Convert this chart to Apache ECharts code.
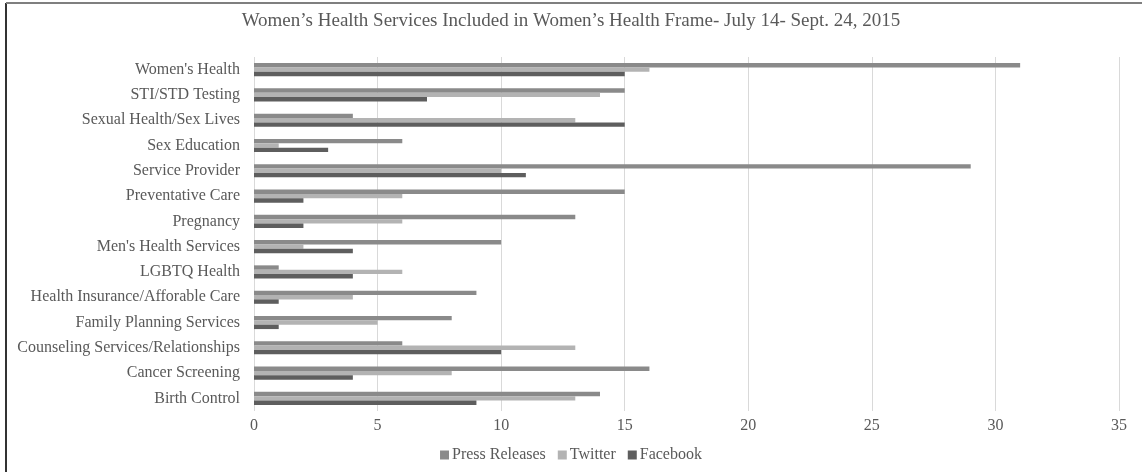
<!DOCTYPE html>
<html>
<head>
<meta charset="utf-8">
<script src="https://cdn.jsdelivr.net/npm/echarts@6/dist/echarts.min.js"></script>
<style>
  html, body { margin: 0; padding: 0; background: #fff; }
  #chart { width: 1142px; height: 472px; }
</style>
</head>
<body>
<div id="chart"></div>
<script>
// categories top -> bottom
var categories = [
    "Women's Health",
    'STI/STD Testing',
    'Sexual Health/Sex Lives',
    'Sex Education',
    'Service Provider',
    'Preventative Care',
    'Pregnancy',
    "Men's Health Services",
    'LGBTQ Health',
    'Health Insurance/Afforable Care',
    'Family Planning Services',
    'Counseling Services/Relationships',
    'Cancer Screening',
    'Birth Control'
]
var pressReleases = [31, 15, 4, 6, 29, 15, 13, 10, 1, 9, 8, 6, 16, 14]
var twitter = [16, 14, 13, 1, 10, 6, 6, 2, 6, 4, 5, 13, 8, 13]
var facebook = [15, 7, 15, 3, 11, 2, 2, 4, 4, 1, 1, 10, 4, 9]
var xTicks = [0, 5, 10, 15, 20, 25, 30, 35]

var font = '"Liberation Serif", "Times New Roman", serif'
var textColor = '#595959'

var myChart = echarts.init(document.getElementById('chart'))

function barSeries(name, data, color) {
    return {
        name: name,
        type: 'bar',
        data: data,
        barGap: '0%',
        barCategoryGap: '48%',
        itemStyle: { color: color },
        emphasis: { disabled: true }
    }
}

var option = {
    animation: false,
    textStyle: { fontFamily: font },
    title: {
        text: 'Women\u2019s Health Services Included in Women\u2019s Health Frame- July 14- Sept. 24, 2015',
        left: 'center',
        top: 7,
        textStyle: { fontFamily: font, fontSize: 19, fontWeight: 'normal', color: textColor }
    },
    legend: {
        bottom: 4,
        left: 'center',
        itemWidth: 9,
        itemHeight: 9,
        itemGap: 12,
        icon: 'rect',
        textStyle: { fontFamily: font, fontSize: 16, color: textColor, padding: [0, 0, 0, -2] },
        data: ['Press Releases', 'Twitter', 'Facebook']
    },
    grid: { left: 254, right: 23, top: 57, bottom: 61 },
    xAxis: {
        type: 'value',
        min: xTicks[0],
        max: xTicks[xTicks.length - 1],
        interval: 5,
        axisLine: { show: false },
        axisTick: { show: false },
        axisLabel: { fontFamily: font, fontSize: 16, color: textColor, margin: 7 },
        splitLine: { lineStyle: { color: '#d9d9d9', width: 1 } }
    },
    yAxis: {
        type: 'category',
        inverse: true,
        data: categories,
        axisLine: { show: false },
        axisTick: { show: false },
        axisLabel: { fontFamily: font, fontSize: 16, color: textColor, margin: 14 }
    },
    series: [
        barSeries('Press Releases', pressReleases, '#8a8a8a'),
        barSeries('Twitter', twitter, '#b3b3b3'),
        barSeries('Facebook', facebook, '#5e5e5e')
    ],
    graphic: [
        { type: 'line', shape: { x1: 6, y1: 3, x2: 6, y2: 472 }, style: { stroke: '#333', lineWidth: 2 } },
        { type: 'line', shape: { x1: 6, y1: 3, x2: 1142, y2: 3 }, style: { stroke: '#7f7f7f', lineWidth: 2 } }
    ]
}

myChart.setOption(option)
</script>
</body>
</html>
